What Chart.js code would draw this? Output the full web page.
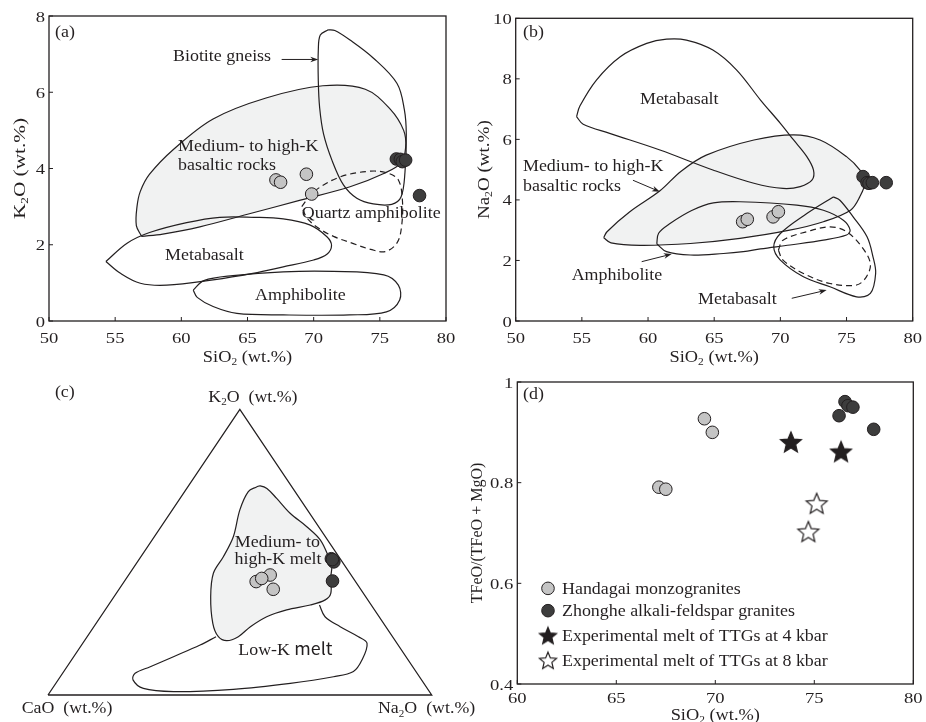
<!DOCTYPE html>
<html>
<head>
<meta charset="utf-8">
<script src="https://cdn.jsdelivr.net/npm/chart.js@4.4.0/dist/chart.umd.min.js"></script>
<style>
  html, body { margin: 0; padding: 0; background: #fff; }
  #wrap { position: relative; width: 926px; height: 722px; overflow: hidden; }
  canvas { position: absolute; }
</style>
</head>
<body>
<div id="wrap">
  <canvas id="ca" width="460" height="370" style="left:0;top:0"></canvas>
  <canvas id="cb" width="466" height="370" style="left:460px;top:0"></canvas>
  <canvas id="cd" width="466" height="352" style="left:460px;top:370px"></canvas>
  <canvas id="cc" width="500" height="352" style="left:0;top:370px"></canvas>
</div>
<script>
const ink = "#231f20";
const SERIF = '"Liberation Serif", "Times New Roman", serif';
const SANS = '"Noto Sans CJK SC", "Noto Sans", sans-serif';

// ---- samples (wt.%) ----
const handagaiSiO2 = [67.15, 67.5, 69.45, 69.85];
const zhongheSiO2 = [76.25, 76.55, 76.7, 76.95, 78.0];
const handagaiK2O = [3.70, 3.64, 3.85, 3.33];
const zhongheK2O = [4.25, 4.24, 4.18, 4.22, 3.29];
const handagaiNa2O = [3.28, 3.36, 3.44, 3.61];
const zhongheNa2O = [4.77, 4.57, 4.55, 4.57, 4.57];
const handagaiFeRatio = [0.791, 0.787, 0.927, 0.900];
const zhongheFeRatio = [0.933, 0.961, 0.953, 0.950, 0.906];
const ttg4SiO2 = [73.82, 76.35];
const ttg4FeRatio = [0.881, 0.862];
const ttg8SiO2 = [75.12, 74.7];
const ttg8FeRatio = [0.759, 0.703];

// ternary CaO - Na2O - K2O (normalised %)
const handagaiTernCaO = [25.9, 21.1, 22.8, 23.9];
const handagaiTernNa2O = [34.4, 36.9, 40.2, 35.3];
const handagaiTernK2O = [39.7, 42.0, 37.0, 40.8];
const zhongheTernCaO = [2.3, 2.2, 2.2, 2.2, 5.9];
const zhongheTernNa2O = [50.0, 50.8, 51.2, 50.4, 54.2];
const zhongheTernK2O = [47.7, 47.0, 46.6, 47.4, 39.9];

// ---- field outlines, [SiO2, oxide] ----
const fieldA_medHighK = [[57.0,2.22],[56.6,2.5],[56.65,3.0],[56.9,3.4],[57.6,3.85],[59.4,4.5],[62.4,5.3],[66.4,5.85],[70.7,6.17],[73.9,6.08],[75.8,5.55],[76.8,5.0],[76.95,4.55],[76.6,4.15],[75.3,3.87],[72.75,3.52],[69.0,3.17],[65.0,2.8],[61.4,2.47],[58.6,2.28],[57.0,2.22]];
const fieldA_biotite = [[71.1,7.64],[70.5,7.5],[70.35,7.1],[70.35,6.3],[70.45,5.6],[70.75,4.9],[71.4,4.2],[72.25,3.57],[73.26,3.22],[74.5,3.07],[75.9,3.06],[76.6,3.25],[76.9,3.9],[77.0,4.9],[76.85,5.55],[76.3,6.23],[74.5,6.9],[72.75,7.37],[71.6,7.62],[71.1,7.64]];
const fieldA_metabasalt = [[54.3,1.56],[55.9,2.04],[57.6,2.32],[60.4,2.58],[62.9,2.72],[65.5,2.72],[67.7,2.68],[69.7,2.52],[71.0,2.21],[71.35,1.98],[71.0,1.75],[70.0,1.6],[67.7,1.42],[65.4,1.25],[62.4,1.08],[58.9,0.94],[56.9,0.99],[55.4,1.25],[54.3,1.56]];
const fieldA_amphibolite = [[60.9,0.81],[61.7,1.06],[63.9,1.19],[67.7,1.29],[71.5,1.3],[75.3,1.21],[76.4,0.94],[76.5,0.55],[75.5,0.24],[72.7,0.16],[67.7,0.16],[64.2,0.2],[62.4,0.38],[61.2,0.62],[60.9,0.81]];
const fieldA_quartzAmph = [[69.1,3.0],[70.0,3.39],[72.0,3.78],[74.3,3.93],[75.6,3.88],[76.4,3.7],[76.7,3.2],[76.65,2.5],[76.3,2.05],[75.4,1.82],[74.3,1.88],[73.0,2.03],[71.5,2.22],[70.3,2.45],[69.5,2.7],[69.1,3.0]];

const fieldB_metabasaltHi = [[54.6,6.75],[54.85,7.1],[56.1,7.96],[57.9,8.73],[59.9,9.17],[61.4,9.31],[62.9,9.28],[64.9,8.95],[66.7,8.29],[68.5,7.3],[70.0,6.53],[71.0,5.98],[72.0,5.43],[72.5,4.99],[72.4,4.66],[71.5,4.44],[70.2,4.38],[68.0,4.55],[64.9,4.99],[60.9,5.65],[57.1,6.2],[55.1,6.5],[54.6,6.75]];
const fieldB_medHighK = [[56.65,2.75],[56.9,2.95],[58.6,3.6],[60.9,4.3],[62.5,4.95],[64.4,5.48],[68.0,5.98],[71.0,6.15],[73.0,5.98],[75.0,5.43],[76.0,4.99],[76.4,4.6],[76.0,4.1],[75.3,3.66],[73.25,3.28],[70.7,3.0],[66.95,2.73],[63.2,2.56],[59.4,2.5],[57.2,2.58],[56.65,2.75]];
const fieldB_amphibolite = [[60.66,2.55],[60.8,2.9],[61.66,3.22],[63.3,3.65],[64.94,3.9],[66.95,3.94],[71.24,3.83],[73.25,3.66],[74.76,3.33],[75.27,3.0],[75.0,2.84],[73.25,2.67],[70.73,2.51],[68.5,2.38],[67.2,2.29],[65.7,2.23],[63.2,2.18],[61.4,2.29],[60.66,2.55]];
const fieldB_metabasaltLo = [[74.0,4.1],[72.0,3.55],[70.0,2.89],[69.5,2.45],[70.0,2.01],[71.74,1.46],[73.75,1.13],[75.76,0.8],[76.8,0.91],[77.2,1.57],[77.0,2.12],[76.55,2.78],[75.5,3.44],[74.5,3.99],[74.0,4.1]];
const fieldB_dashed = [[69.85,2.34],[70.2,2.67],[72.0,2.95],[73.76,3.11],[75.0,2.95],[76.15,2.45],[76.8,1.9],[76.5,1.46],[75.76,1.19],[73.75,1.24],[71.74,1.57],[70.2,2.01],[69.85,2.34]];

// ternary fields, [Na2O %, K2O %] (CaO = rest)
const fieldC_medHighKMelt = [[18.0,72.9],[16.6,71.2],[17.6,64.8],[20.6,55.4],[21.5,48.4],[21.8,42.6],[25.2,34.4],[30.4,25.1],[34.2,20.4],[37.1,19.0],[39.4,20.4],[40.8,23.9],[43.3,27.4],[47.3,29.8],[52.6,31.5],[55.6,33.3],[55.9,35.6],[53.0,41.4],[51.5,44.9],[48.9,48.4],[43.8,54.3],[38.0,58.9],[31.3,63.6],[25.2,68.8],[20.9,72.3],[18.7,73.2],[18.0,72.9]];
const fieldC_lowKMelt = [[33.6,20.4],[30.9,17.5],[26.0,13.4],[21.7,9.9],[18.9,7.6],[19.5,5.3],[23.7,2.3],[32.1,1.2],[47.3,2.0],[61.1,4.1],[71.2,6.4],[75.5,8.2],[75.7,12.3],[74.1,18.1],[70.7,20.4],[64.2,23.9],[58.5,27.4],[55.0,31.5]];
const triangleCorners = [[0, 0], [100, 0], [0, 100], [0, 0]]; // [Na2O, K2O]

// ---- ticks ----
const xTicksAB = [50, 55, 60, 65, 70, 75, 80];
const xTickLabelsAB = ["50", "55", "60", "65", "70", "75", "80"];
const yTicksA = [0, 2, 4, 6, 8];
const yTickLabelsA = ["0", "2", "4", "6", "8"];
const yTicksB = [0, 2, 4, 6, 8, 10];
const yTickLabelsB = ["0", "2", "4", "6", "8", "10"];
const xTicksD = [60, 65, 70, 75, 80];
const xTickLabelsD = ["60", "65", "70", "75", "80"];
const yTicksD = [0.4, 0.6, 0.8, 1];
const yTickLabelsD = ["0.4", "0.6", "0.8", "1"];

// ---- helpers ----
function tern(ca, na, k) { const s = ca + na + k; return { x: (na + k / 2) / s, y: k / s }; }
const ternField = (arr) => arr.map(([na, k]) => tern(100 - na - k, na, k));
const xy = (arr) => arr.map(([x, y]) => ({ x, y }));
const pairs = (xs, ys) => xs.map((x, i) => ({ x, y: ys[i] }));

function starImage(fill, r) {
  const c = document.createElement("canvas");
  const s = Math.ceil(r * 2 + 4);
  c.width = c.height = s;
  const g = c.getContext("2d");
  g.translate(s / 2, s / 2 + r * 0.1);
  g.beginPath();
  for (let i = 0; i < 10; i++) {
    const a = -Math.PI / 2 + i * Math.PI / 5;
    const rr = i % 2 ? r * 0.45 : r;
    g.lineTo(Math.cos(a) * rr, Math.sin(a) * rr);
  }
  g.closePath();
  g.fillStyle = fill; g.fill();
  g.lineWidth = 1.2; g.strokeStyle = ink; g.stroke();
  return c;
}
const starBlack = starImage(ink, 11);
const starWhite = starImage("#fff", 11);
const starBlackSm = starImage(ink, 9);
const starWhiteSm = starImage("#fff", 9);

const GRAY = "#c4c4c4", DARK = "#3d3d3d", FIELD = "#f1f2f2";

const line = (data, extra = {}) => Object.assign({ data, showLine: true, pointRadius: 0, borderColor: ink, borderWidth: 1.2, tension: 0.35, fill: false, clip: false, order: 5 }, extra);
const dots = (data, fill, extra = {}) => Object.assign({ data, showLine: false, pointRadius: 6.3, backgroundColor: fill, borderColor: ink, borderWidth: 1, clip: false, order: 1 }, extra);

function segs(str) {
  if (Array.isArray(str)) return str.map(([t, fam]) => ({ t, sub: false, fam }));
  return str.split(/(_.)/).filter(Boolean).map(s => s[0] === "_" ? { t: s.slice(1), sub: true } : { t: s, sub: false });
}
function drawRich(ctx, str, x, y, o) {
  const size = o.size || 16, sx = o.sx || 1;
  const list = segs(str);
  let w = 0;
  list.forEach(s => {
    s.font = `${s.sub ? size * 0.62 : size}px ${s.fam || SERIF}`;
    ctx.font = s.font;
    s.w = ctx.measureText(s.t).width;
    w += s.w;
  });
  let cx = o.align === "center" ? -w / 2 : o.align === "right" ? -w : 0;
  ctx.save();
  ctx.translate(x, y);
  if (o.rotate) ctx.rotate(-Math.PI / 2);
  ctx.scale(sx, 1);
  ctx.fillStyle = ink;
  ctx.textAlign = "left";
  ctx.textBaseline = "alphabetic";
  list.forEach(s => { ctx.font = s.font; ctx.fillText(s.t, cx, s.sub ? size * 0.2 : 0); cx += s.w; });
  ctx.restore();
}
function arrow(ctx, x1, y1, x2, y2) {
  const c = Math.cos(Math.atan2(y2 - y1, x2 - x1)), s = Math.sin(Math.atan2(y2 - y1, x2 - x1));
  const L = 8, W = 2.8;
  ctx.strokeStyle = ink; ctx.fillStyle = ink; ctx.lineWidth = 1;
  ctx.beginPath(); ctx.moveTo(x1, y1); ctx.lineTo(x2 - c * L * 0.6, y2 - s * L * 0.6); ctx.stroke();
  ctx.beginPath();
  ctx.moveTo(x2, y2);
  ctx.lineTo(x2 - L * c + W * s, y2 - L * s - W * c);
  ctx.lineTo(x2 - L * 0.7 * c, y2 - L * 0.7 * s);
  ctx.lineTo(x2 - L * c - W * s, y2 - L * s + W * c);
  ctx.closePath(); ctx.fill();
}

// per-canvas decorations: frame, ticks, titles, labels
const decorCfg = {};
const decor = {
  id: "decor",
  afterDatasetsDraw(chart) {
    const o = decorCfg[chart.canvas.id];
    if (!o) return;
    const ctx = chart.ctx, a = chart.chartArea;
    const X = v => chart.scales.x.getPixelForValue(v), Y = v => chart.scales.y.getPixelForValue(v);
    ctx.save();
    if (o.frame) {
      ctx.strokeStyle = ink; ctx.lineWidth = 1.3;
      ctx.strokeRect(a.left, a.top, a.right - a.left, a.bottom - a.top);
      ctx.lineWidth = 1;
      ctx.beginPath();
      o.xTicks.forEach(v => { ctx.moveTo(X(v), a.bottom); ctx.lineTo(X(v), a.bottom - 4); });
      o.yTicks.forEach(v => { ctx.moveTo(a.left, Y(v)); ctx.lineTo(a.left + 4, Y(v)); });
      ctx.stroke();
      o.xTicks.forEach((v, i) => drawRich(ctx, o.xTickLabels[i], X(v), a.bottom + o.xTickGap, { size: 15.5, sx: 1.2, align: "center" }));
      o.yTicks.forEach((v, i) => drawRich(ctx, o.yTickLabels[i], a.left - 4, Y(v) + 5.5, { size: 15.5, sx: 1.2, align: "right" }));
      drawRich(ctx, o.xTitle, (a.left + a.right) / 2, a.bottom + o.xTitleGap, { size: 17, sx: 1.08, align: "center" });
      drawRich(ctx, o.yTitle, a.left - o.yTitleGap, (a.top + a.bottom) / 2, { size: o.yTitleSize, sx: o.yTitleSx, align: "center", rotate: true });
    }
    (o.texts || []).forEach(t => drawRich(ctx, t.text, X(t.at[0]), Y(t.at[1]), t));
    (o.arrows || []).forEach(([p, q]) => arrow(ctx, X(p[0]), Y(p[1]), X(q[0]), Y(q[1])));
    (o.legend || []).forEach(it => {
      const px = X(it.at[0]), py = Y(it.at[1]);
      if (it.img) ctx.drawImage(it.img, px - it.img.width / 2, py - it.img.height / 2);
      else {
        ctx.beginPath(); ctx.arc(px, py, 6.3, 0, Math.PI * 2);
        ctx.fillStyle = it.fill; ctx.fill();
        ctx.lineWidth = 1; ctx.strokeStyle = ink; ctx.stroke();
      }
      drawRich(ctx, it.label, px + 14, py + 5.5, { size: 16, sx: 1.12 });
    });
    ctx.restore();
  }
};

function makeChart(id, datasets, xr, yr, pad) {
  return new Chart(document.getElementById(id), {
    type: "scatter",
    data: { datasets },
    options: {
      responsive: false,
      animation: false,
      events: [],
      layout: { padding: pad },
      scales: {
        x: { type: "linear", min: xr[0], max: xr[1], display: false },
        y: { type: "linear", min: yr[0], max: yr[1], display: false }
      },
      plugins: { legend: { display: false }, tooltip: { enabled: false } }
    },
    plugins: [decor]
  });
}

const T = 16, TS = 1.12; // label font size and horizontal stretch

// ---- (a) K2O vs SiO2 ----
decorCfg.ca = {
  frame: true, xTicks: xTicksAB, xTickLabels: xTickLabelsAB, yTicks: yTicksA, yTickLabels: yTickLabelsA,
  xTickGap: 22, xTitleGap: 41, yTitleGap: 24, yTitleSize: 17, yTitleSx: 1.25,
  xTitle: "SiO_2 (wt.%)", yTitle: "K_2O (wt.%)",
  texts: [
    { text: "(a)", at: [50.45, 7.46], size: T, sx: TS },
    { text: "Biotite gneiss", at: [59.37, 6.82], size: T, sx: TS },
    { text: "Medium- to high-K", at: [59.75, 4.46], size: T, sx: TS },
    { text: "basaltic rocks", at: [59.75, 3.96], size: T, sx: TS },
    { text: "Quartz amphibolite", at: [69.1, 2.69], size: T, sx: TS },
    { text: "Metabasalt", at: [58.77, 1.6], size: T, sx: TS },
    { text: "Amphibolite", at: [65.57, 0.55], size: T, sx: TS }
  ],
  arrows: [[[67.58, 6.86], [70.35, 6.86]]]
};
makeChart("ca", [
  dots(pairs(zhongheSiO2, zhongheK2O), DARK, { order: 0 }),
  dots(pairs(handagaiSiO2, handagaiK2O), GRAY),
  line(xy(fieldA_quartzAmph), { borderDash: [6, 4] }),
  line(xy(fieldA_biotite)),
  line(xy(fieldA_metabasalt)),
  line(xy(fieldA_amphibolite)),
  line(xy(fieldA_medHighK), { fill: "shape", backgroundColor: FIELD, order: 10 })
], [50, 80], [0, 8], { left: 49, right: 14, top: 16, bottom: 49 });

// ---- (b) Na2O vs SiO2 ----
decorCfg.cb = {
  frame: true, xTicks: xTicksAB, xTickLabels: xTickLabelsAB, yTicks: yTicksB, yTickLabels: yTickLabelsB,
  xTickGap: 22, xTitleGap: 41, yTitleGap: 27, yTitleSize: 17, yTitleSx: 1.12,
  xTitle: "SiO_2 (wt.%)", yTitle: "Na_2O (wt.%)",
  texts: [
    { text: "(b)", at: [50.55, 9.37], size: T, sx: TS },
    { text: "Metabasalt", at: [59.39, 7.16], size: T, sx: TS },
    { text: "Medium- to high-K", at: [50.55, 4.95], size: T, sx: TS },
    { text: "basaltic rocks", at: [50.55, 4.30], size: T, sx: TS },
    { text: "Amphibolite", at: [54.23, 1.35], size: T, sx: TS },
    { text: "Metabasalt", at: [63.78, 0.56], size: T, sx: TS }
  ],
  arrows: [
    [[58.86, 4.65], [60.9, 4.27]],
    [[59.52, 1.96], [61.79, 2.21]],
    [[70.86, 0.75], [73.5, 1.02]]
  ]
};
makeChart("cb", [
  dots(pairs(zhongheSiO2, zhongheNa2O), DARK, { order: 0 }),
  dots(pairs(handagaiSiO2, handagaiNa2O), GRAY),
  line(xy(fieldB_dashed), { borderDash: [6, 4] }),
  line(xy(fieldB_metabasaltLo)),
  line(xy(fieldB_amphibolite)),
  line(xy(fieldB_metabasaltHi)),
  line(xy(fieldB_medHighK), { fill: "shape", backgroundColor: FIELD, order: 10 })
], [50, 80], [0, 10], { left: 55.7, right: 13.3, top: 18.3, bottom: 49 });

// ---- (c) CaO - Na2O - K2O ternary ----
decorCfg.cc = {
  frame: false,
  texts: [
    { text: "(c)", at: [0.018, 1.044], size: T, sx: TS },
    { text: "K_2O  (wt.%)", at: [0.534, 1.027], size: 17, sx: 1.05, align: "center" },
    { text: "CaO  (wt.%)", at: [-0.0685, -0.064], size: 17, sx: 1.05 },
    { text: "Na_2O  (wt.%)", at: [0.86, -0.064], size: 17, sx: 1.05 },
    { text: "Medium- to", at: [0.487, 0.519], size: T, sx: TS },
    { text: "high-K melt", at: [0.486, 0.457], size: T, sx: TS },
    { text: [["Low-K ", SERIF], ["melt", SANS]], at: [0.496, 0.14], size: 17, sx: 1.05 }
  ]
};
makeChart("cc", [
  dots(zhongheTernCaO.map((c, i) => tern(c, zhongheTernNa2O[i], zhongheTernK2O[i])), DARK, { order: 0 }),
  dots(handagaiTernCaO.map((c, i) => tern(c, handagaiTernNa2O[i], handagaiTernK2O[i])), GRAY),
  line(ternField(triangleCorners), { tension: 0, borderWidth: 1.3 }),
  line(ternField(fieldC_lowKMelt)),
  line(ternField(fieldC_medHighKMelt), { fill: "shape", backgroundColor: FIELD, order: 10 })
], [0, 1], [0, 1], { left: 48, right: 68.3, top: 39.3, bottom: 27 });

// ---- (d) TFeO/(TFeO+MgO) vs SiO2 ----
decorCfg.cd = {
  frame: true, xTicks: xTicksD, xTickLabels: xTickLabelsD, yTicks: yTicksD, yTickLabels: yTickLabelsD,
  xTickGap: 19, xTitleGap: 36, yTitleGap: 35, yTitleSize: 16, yTitleSx: 1.0,
  xTitle: "SiO_2 (wt.%)", yTitle: "TFeO/(TFeO + MgO)",
  texts: [{ text: "(d)", at: [60.29, 0.967], size: T, sx: TS }],
  legend: [
    { at: [61.55, 0.590], fill: GRAY, label: "Handagai monzogranites" },
    { at: [61.55, 0.5457], fill: DARK, label: "Zhonghe alkali-feldspar granites" },
    { at: [61.55, 0.4965], img: starBlackSm, label: "Experimental melt of TTGs at 4 kbar" },
    { at: [61.55, 0.4473], img: starWhiteSm, label: "Experimental melt of TTGs at 8 kbar" }
  ]
};
makeChart("cd", [
  dots(pairs(ttg4SiO2, ttg4FeRatio), ink, { pointStyle: starBlack, pointRadius: 11, order: 0 }),
  dots(pairs(ttg8SiO2, ttg8FeRatio), "#fff", { pointStyle: starWhite, pointRadius: 11, order: 0 }),
  dots(pairs(zhongheSiO2, zhongheFeRatio), DARK),
  dots(pairs(handagaiSiO2, handagaiFeRatio), GRAY)
], [60, 80], [0.4, 1], { left: 57.3, right: 12.7, top: 9.3, bottom: 38 });
</script>
</body>
</html>
